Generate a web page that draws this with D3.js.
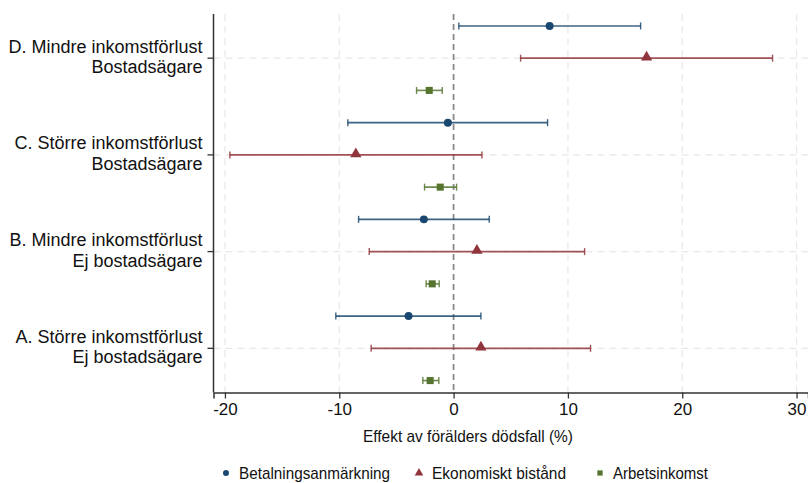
<!DOCTYPE html>
<html>
<head>
<meta charset="utf-8">
<script src="https://cdn.jsdelivr.net/npm/d3@7"></script>
<style>
  body { margin: 0; background: #fff; }
  text { font-family: "Liberation Sans", Arial, sans-serif; fill: #111; }
</style>
</head>
<body>
<svg class="chart"></svg>
<script>
// groups, top to bottom
var groupLine1 = ["D. Mindre inkomstförlust", "C. Större inkomstförlust", "B. Mindre inkomstförlust", "A. Större inkomstförlust"];
var groupLine2 = ["Bostadsägare", "Bostadsägare", "Ej bostadsägare", "Ej bostadsägare"];

var seriesNames = ["Betalningsanmärkning", "Ekonomiskt bistånd", "Arbetsinkomst"];
var seriesColors = ["#1a476f", "#90353b", "#55752f"];
var seriesShapes = ["circle", "triangle", "square"];

// point estimates and confidence bounds, same order as groups
var betEst = [8.4, -0.5, -2.6, -3.94];
var betLo = [0.46, -9.25, -8.31, -10.3];
var betHi = [16.36, 8.22, 3.12, 2.39];

var ekoEst = [16.88, -8.55, 2.04, 2.39];
var ekoLo = [5.86, -19.57, -7.38, -7.21];
var ekoHi = [27.9, 2.48, 11.46, 11.98];

var arbEst = [-2.13, -1.17, -1.87, -2.05];
var arbLo = [-3.24, -2.54, -2.4, -2.69];
var arbHi = [-0.99, 0.26, -1.26, -1.29];

var xTicks = [-20, -10, 0, 10, 20, 30];

var width = 808;
var height = 483;

var plotLeft = 213.5, plotRight = 808, plotTop = 14, plotBottom = 392.5;

var svg = d3.select(".chart")
    .attr("width", width)
    .attr("height", height);

var x = d3.scaleLinear().domain([-21, 31]).range([plotLeft, plotRight]);
var y = d3.scaleLinear().domain([-0.37, 11.37]).range([plotTop, plotBottom]);

var estimates = [betEst, ekoEst, arbEst];
var lows = [betLo, ekoLo, arbLo];
var highs = [betHi, ekoHi, arbHi];

var rows = [];
groupLine1.forEach(function(g, gi) {
    seriesNames.forEach(function(s, si) {
        rows.push({
            row: gi * 3 + si,
            series: si,
            est: estimates[si][gi],
            lo: lows[si][gi],
            hi: highs[si][gi]
        });
    });
});

// grid lines
var grid = svg.append("g").attr("class", "grid");
grid.selectAll("line.vgrid")
    .data(xTicks.filter(function(d) { return d !== 0; }))
    .enter().append("line")
    .attr("x1", function(d) { return x(d); })
    .attr("x2", function(d) { return x(d); })
    .attr("y1", plotTop)
    .attr("y2", plotBottom)
    .attr("stroke", "#e8e8e8")
    .attr("stroke-width", 1.2)
    .attr("stroke-dasharray", "7,5");

grid.selectAll("line.hgrid")
    .data(groupLine1)
    .enter().append("line")
    .attr("x1", plotLeft)
    .attr("x2", plotRight)
    .attr("y1", function(d, i) { return y(i * 3 + 1); })
    .attr("y2", function(d, i) { return y(i * 3 + 1); })
    .attr("stroke", "#e8e8e8")
    .attr("stroke-width", 1.2)
    .attr("stroke-dasharray", "7,5");

// zero reference line
svg.append("line")
    .attr("x1", x(0))
    .attr("x2", x(0))
    .attr("y1", plotTop)
    .attr("y2", plotBottom)
    .attr("stroke", "#8a8a8a")
    .attr("stroke-width", 1.8)
    .attr("stroke-dasharray", "6,4");

// axes
var xAxis = d3.axisBottom(x)
    .tickValues(xTicks)
    .tickFormat(function(d) { return String(d); })
    .tickSize(6)
    .tickPadding(4);
var gx = svg.append("g")
    .attr("transform", "translate(0," + plotBottom + ")")
    .call(xAxis);
gx.select(".domain").attr("stroke", "#333").attr("stroke-width", 1.5);
gx.selectAll(".tick line").attr("stroke", "#333").attr("stroke-width", 1.3);
gx.selectAll(".tick text").style("font-size", "17px").attr("fill", "#111");

svg.append("line")
    .attr("x1", plotLeft)
    .attr("x2", plotLeft)
    .attr("y1", plotTop)
    .attr("y2", plotBottom)
    .attr("stroke", "#333")
    .attr("stroke-width", 1.5);

// two-line group labels, tick at the middle (red) row
var yLab = svg.append("g").attr("class", "ylabels");
groupLine1.forEach(function(g, gi) {
    var yy = y(gi * 3 + 1);
    yLab.append("line")
        .attr("x1", plotLeft - 6)
        .attr("x2", plotLeft)
        .attr("y1", yy)
        .attr("y2", yy)
        .attr("stroke", "#333")
        .attr("stroke-width", 1.3);
    yLab.append("text")
        .attr("text-anchor", "end")
        .attr("x", plotLeft - 11)
        .attr("y", yy - 5.5)
        .style("font-size", "18px")
        .text(groupLine1[gi]);
    yLab.append("text")
        .attr("text-anchor", "end")
        .attr("x", plotLeft - 11)
        .attr("y", yy + 15)
        .style("font-size", "18px")
        .text(groupLine2[gi]);
});

// confidence intervals
var ci = svg.append("g").attr("class", "ci");
ci.selectAll("line.bar")
    .data(rows)
    .enter().append("line")
    .attr("x1", function(d) { return x(d.lo); })
    .attr("x2", function(d) { return x(d.hi); })
    .attr("y1", function(d) { return y(d.row); })
    .attr("y2", function(d) { return y(d.row); })
    .attr("stroke", function(d) { return seriesColors[d.series]; })
    .attr("stroke-opacity", 0.85)
    .attr("stroke-width", 1.6);

["lo", "hi"].forEach(function(k) {
    ci.selectAll("line.cap-" + k)
        .data(rows)
        .enter().append("line")
        .attr("x1", function(d) { return x(d[k]); })
        .attr("x2", function(d) { return x(d[k]); })
        .attr("y1", function(d) { return y(d.row) - 3.5; })
        .attr("y2", function(d) { return y(d.row) + 3.5; })
        .attr("stroke", function(d) { return seriesColors[d.series]; })
        .attr("stroke-opacity", 0.85)
        .attr("stroke-width", 1.4);
});

// markers
var symbolFor = {
    circle: d3.symbol().type(d3.symbolCircle).size(50),
    triangle: d3.symbol().type(d3.symbolTriangle).size(55),
    square: d3.symbol().type(d3.symbolSquare).size(50)
};

svg.append("g").selectAll("path")
    .data(rows)
    .enter().append("path")
    .attr("d", function(d) { return symbolFor[seriesShapes[d.series]](); })
    .attr("transform", function(d) {
        var dy = seriesShapes[d.series] === "triangle" ? -1 : 0;
        return "translate(" + x(d.est) + "," + (y(d.row) + dy) + ")";
    })
    .attr("fill", function(d) { return seriesColors[d.series]; });

// axis title
svg.append("text")
    .attr("x", 363)
    .attr("y", 442)
    .attr("textLength", 210)
    .attr("lengthAdjust", "spacingAndGlyphs")
    .style("font-size", "17px")
    .text("Effekt av förälders dödsfall (%)");

// legend
var legendX = [226, 419, 600];
var legendTextW = [151, 134, 95];
var legend = svg.append("g");
var legendSymbol = {
    circle: d3.symbol().type(d3.symbolCircle).size(28),
    triangle: d3.symbol().type(d3.symbolTriangle).size(32),
    square: d3.symbol().type(d3.symbolSquare).size(28)
};
seriesNames.forEach(function(s, i) {
    legend.append("path")
        .attr("d", legendSymbol[seriesShapes[i]]())
        .attr("transform", "translate(" + legendX[i] + ",473)")
        .attr("fill", seriesColors[i]);
    legend.append("text")
        .attr("x", legendX[i] + 13)
        .attr("y", 479)
        .attr("textLength", legendTextW[i])
        .attr("lengthAdjust", "spacingAndGlyphs")
        .style("font-size", "17px")
        .text(s);
});
</script>
</body>
</html>
